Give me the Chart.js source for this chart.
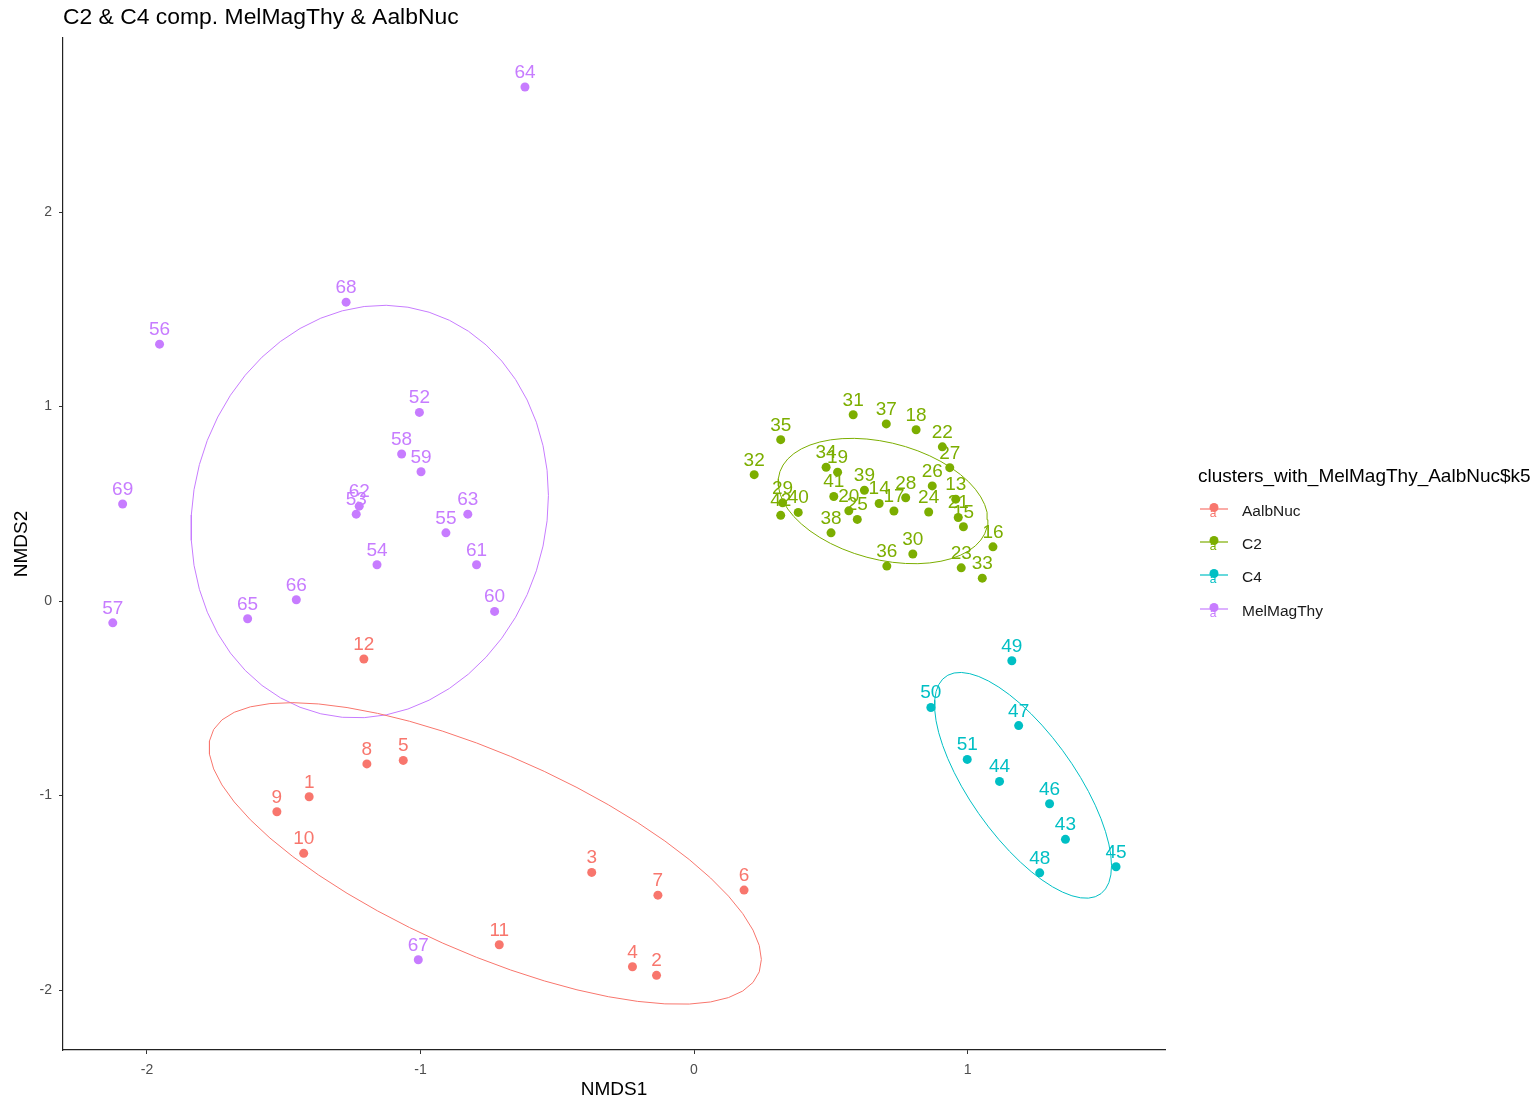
<!DOCTYPE html>
<html><head><meta charset="utf-8">
<script src="https://cdn.jsdelivr.net/npm/chart.js@4.4.1/dist/chart.umd.min.js"></script>
<style>html,body{margin:0;padding:0;background:#fff;}#wrap{width:1535px;height:1103px;position:relative;}</style>
</head><body><div id="wrap"><canvas id="c" width="1535" height="1103"></canvas></div>
<script>
const chartTitle = 'C2 & C4 comp. MelMagThy & AalbNuc';
const xAxisTitle = 'NMDS1';
const yAxisTitle = 'NMDS2';
const legendTitle = 'clusters_with_MelMagThy_AalbNuc$k5';
const groupNames = ['AalbNuc', 'C2', 'C4', 'MelMagThy'];
const groupColors = ['#F8766D', '#7CAE00', '#00BFC4', '#C77CFF'];
const xTicks = [-2, -1, 0, 1];
const xTickLabels = ['-2', '-1', '0', '1'];
const yTicks = [-2, -1, 0, 1, 2];
const yTickLabels = ['-2', '-1', '0', '1', '2'];
const xRange = [-2.307, 1.722];
const yRange = [-2.308, 2.895];
const ellipseLevel = 0.75;

// AalbNuc
const aalbNucIds = [1, 2, 3, 4, 5, 6, 7, 8, 9, 10, 11, 12];
const aalbNucX = [-1.407, -0.137, -0.374, -0.225, -1.063, 0.183, -0.132, -1.196, -1.525, -1.427, -0.712, -1.207];
const aalbNucY = [-1.006, -1.924, -1.395, -1.880, -0.819, -1.486, -1.512, -0.837, -1.083, -1.297, -1.767, -0.298];

// C2
const c2Ids = [13, 14, 15, 16, 17, 18, 19, 20, 21, 22, 23, 24, 25, 26, 27, 28, 29, 30, 31, 32, 33, 34, 35, 36, 37, 38, 39, 40, 41, 42];
const c2X = [0.957, 0.677, 0.985, 1.093, 0.731, 0.812, 0.525, 0.566, 0.966, 0.908, 0.977, 0.858, 0.597, 0.871, 0.935, 0.774, 0.324, 0.800, 0.582, 0.220, 1.054, 0.483, 0.317, 0.705, 0.703, 0.501, 0.623, 0.381, 0.511, 0.317];
const c2Y = [0.524, 0.502, 0.382, 0.279, 0.463, 0.881, 0.663, 0.464, 0.430, 0.793, 0.171, 0.458, 0.420, 0.592, 0.686, 0.531, 0.505, 0.242, 0.958, 0.650, 0.118, 0.688, 0.830, 0.180, 0.911, 0.351, 0.570, 0.456, 0.538, 0.441];

// C4
const c4Ids = [43, 44, 45, 46, 47, 48, 49, 50, 51];
const c4X = [1.358, 1.117, 1.543, 1.300, 1.187, 1.264, 1.162, 0.866, 0.999];
const c4Y = [-1.225, -0.927, -1.366, -1.042, -0.640, -1.397, -0.307, -0.547, -0.814];

// MelMagThy
const melIds = [52, 53, 54, 55, 56, 57, 58, 59, 60, 61, 62, 63, 64, 65, 66, 67, 68, 69];
const melX = [-1.004, -1.235, -1.159, -0.907, -1.954, -2.125, -1.069, -0.998, -0.729, -0.795, -1.224, -0.827, -0.618, -1.632, -1.454, -1.008, -1.272, -2.089];
const melY = [0.970, 0.447, 0.187, 0.351, 1.321, -0.112, 0.756, 0.665, -0.053, 0.187, 0.488, 0.447, 2.643, -0.091, 0.007, -1.844, 1.537, 0.499];

const groups = [
  {ids: aalbNucIds, x: aalbNucX, y: aalbNucY},
  {ids: c2Ids, x: c2X, y: c2Y},
  {ids: c4Ids, x: c4X, y: c4Y},
  {ids: melIds, x: melX, y: melY}
];

// stat_ellipse(type = "t"): MASS::cov.trob + F-quantile radius
function covTrob(xs, ys) {
  const n = xs.length, nu = 5, p = 2, tol = 0.01, maxit = 25;
  let loc = [xs.reduce((a, b) => a + b, 0) / n, ys.reduce((a, b) => a + b, 0) / n];
  let w = new Array(n).fill(1);
  let X = [];
  for (let it = 0; it < maxit; it++) {
    const w0 = w.slice();
    X = xs.map((v, i) => [v - loc[0], ys[i] - loc[1]]);
    const sw = w.reduce((a, b) => a + b, 0);
    let s11 = 0, s12 = 0, s22 = 0;
    for (let i = 0; i < n; i++) {
      const f = w[i] / sw;
      s11 += f * X[i][0] * X[i][0];
      s12 += f * X[i][0] * X[i][1];
      s22 += f * X[i][1] * X[i][1];
    }
    const det = s11 * s22 - s12 * s12;
    const i11 = s22 / det, i12 = -s12 / det, i22 = s11 / det;
    const Q = X.map(r => r[0] * r[0] * i11 + 2 * r[0] * r[1] * i12 + r[1] * r[1] * i22);
    w = Q.map(q => (nu + p) / (nu + q));
    const sw2 = w.reduce((a, b) => a + b, 0);
    loc = [xs.reduce((a, v, i) => a + w[i] * v, 0) / sw2, ys.reduce((a, v, i) => a + w[i] * v, 0) / sw2];
    if (w.every((v, i) => Math.abs(v - w0[i]) < tol)) break;
  }
  let c11 = 0, c12 = 0, c22 = 0;
  for (let i = 0; i < n; i++) {
    c11 += w[i] * X[i][0] * X[i][0];
    c12 += w[i] * X[i][0] * X[i][1];
    c22 += w[i] * X[i][1] * X[i][1];
  }
  return {center: loc, cov: [[c11 / n, c12 / n], [c12 / n, c22 / n]]};
}
function ellipsePoints(xs, ys) {
  const segments = 51;
  const d = xs.length - 1;
  const qf = (d / 2) * (Math.pow(1 - ellipseLevel, -2 / d) - 1);
  const radius = Math.sqrt(2 * qf);
  const v = covTrob(xs, ys);
  const a = Math.sqrt(v.cov[0][0]);
  const b = v.cov[0][1] / a;
  const c = Math.sqrt(v.cov[1][1] - b * b);
  const pts = [];
  for (let k = 0; k <= segments; k++) {
    const t = k * 2 * Math.PI / segments;
    const ct = Math.cos(t), st = Math.sin(t);
    pts.push({x: v.center[0] + radius * a * ct, y: v.center[1] + radius * (b * ct + c * st)});
  }
  return pts;
}

const datasets = [];
groups.forEach((g, gi) => {
  datasets.push({
    label: groupNames[gi] + ' ellipse', isEllipse: true,
    data: ellipsePoints(g.x, g.y), showLine: true, fill: false,
    borderColor: groupColors[gi], borderWidth: 1, pointRadius: 0, tension: 0
  });
});
groups.forEach((g, gi) => {
  datasets.push({
    label: groupNames[gi], ids: g.ids,
    data: g.x.map((v, i) => ({x: v, y: g.y[i]})),
    backgroundColor: groupColors[gi], borderWidth: 0, pointRadius: 4.5, pointHoverRadius: 4.5
  });
});

const FONT = '"Liberation Sans", Arial, sans-serif';

const labelPlugin = {
  id: 'pointLabels',
  afterDatasetsDraw(chart) {
    const ctx = chart.ctx;
    ctx.save();
    ctx.font = '19px ' + FONT;
    ctx.textAlign = 'center';
    ctx.textBaseline = 'alphabetic';
    chart.data.datasets.forEach((ds, di) => {
      if (ds.isEllipse) return;
      const meta = chart.getDatasetMeta(di);
      ctx.fillStyle = ds.backgroundColor;
      meta.data.forEach((el, i) => {
        ctx.fillText(String(ds.ids[i]), el.x, el.y - 9);
      });
    });
    ctx.restore();
  }
};

const decorPlugin = {
  id: 'decor',
  afterDraw(chart) {
    const ctx = chart.ctx;
    const ca = chart.chartArea;
    ctx.save();
    ctx.fillStyle = '#000';
    ctx.font = '22.9px ' + FONT;
    ctx.textAlign = 'left';
    ctx.textBaseline = 'middle';
    ctx.fillText(chartTitle, ca.left, 18);
    ctx.font = '19px ' + FONT;
    ctx.textAlign = 'center';
    ctx.fillText(xAxisTitle, (ca.left + ca.right) / 2, 1090);
    ctx.save();
    ctx.translate(22, (ca.top + ca.bottom) / 2);
    ctx.rotate(-Math.PI / 2);
    ctx.fillText(yAxisTitle, 0, 0);
    ctx.restore();
    ctx.textAlign = 'left';
    ctx.font = '19px ' + FONT;
    ctx.fillText(legendTitle, 1198, 477);
    const rowY = [512, 545, 578, 612];
    groupNames.forEach((name, i) => {
      const y = rowY[i];
      const col = groupColors[i];
      ctx.strokeStyle = col;
      ctx.lineWidth = 1.2;
      ctx.beginPath();
      ctx.moveTo(1200, y - 3);
      ctx.lineTo(1228, y - 3);
      ctx.stroke();
      ctx.fillStyle = col;
      ctx.beginPath();
      ctx.arc(1214, y - 4.5, 4.5, 0, Math.PI * 2);
      ctx.fill();
      ctx.font = '12px ' + FONT;
      ctx.textAlign = 'center';
      ctx.fillText('a', 1213, y + 2);
      ctx.fillStyle = '#1a1a1a';
      ctx.font = '15.5px ' + FONT;
      ctx.textAlign = 'left';
      ctx.fillText(name, 1242, y);
    });
    ctx.restore();
  }
};

new Chart(document.getElementById('c'), {
  type: 'scatter',
  data: {datasets},
  options: {
    responsive: false, animation: false, devicePixelRatio: 1,
    layout: {padding: {left: 0, top: 38, right: 370, bottom: 0}},
    plugins: {legend: {display: false}, tooltip: {enabled: false}, title: {display: false}},
    scales: {
      x: {
        type: 'linear', min: xRange[0], max: xRange[1],
        afterBuildTicks: s => { s.ticks = xTicks.map(v => ({value: v})); },
        afterFit: s => { s.height = 53; s.paddingLeft = 0; s.paddingRight = 0; },
        ticks: {autoSkip: false, maxRotation: 0, padding: 8, color: '#4D4D4D', font: {size: 14, family: FONT},
          callback: v => xTickLabels[xTicks.indexOf(v)]},
        grid: {display: true, drawOnChartArea: false, drawTicks: true, tickLength: 4, tickColor: '#333', tickWidth: 1},
        border: {display: true, color: '#222', width: 1.2},
        title: {display: false}
      },
      y: {
        type: 'linear', min: yRange[0], max: yRange[1],
        afterBuildTicks: s => { s.ticks = yTicks.map(v => ({value: v})); },
        afterFit: s => { s.width = 63; s.paddingTop = 0; s.paddingBottom = 0; },
        ticks: {autoSkip: false, padding: 7, color: '#4D4D4D', font: {size: 14, family: FONT},
          callback: v => yTickLabels[yTicks.indexOf(v)]},
        grid: {display: true, drawOnChartArea: false, drawTicks: true, tickLength: 4, tickColor: '#333', tickWidth: 1},
        border: {display: true, color: '#222', width: 1.2},
        title: {display: false}
      }
    }
  },
  plugins: [labelPlugin, decorPlugin]
});
</script></body></html>
